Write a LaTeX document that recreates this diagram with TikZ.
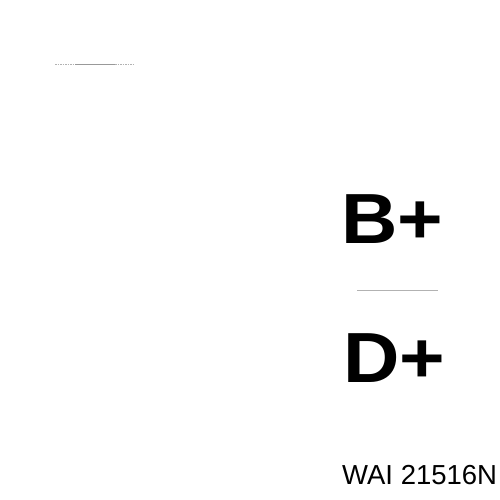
\documentclass[tikz,border=0pt]{standalone}
\usepackage{fontspec}
\setmainfont{Liberation Sans}
\begin{document}
\begin{tikzpicture}[x=1pt,y=1pt,
  big/.style={anchor=base west,inner sep=0pt,font=\fontsize{71}{71}\selectfont\bfseries},
  code/.style={anchor=base west,inner sep=0pt,font=\fontsize{27.5}{28}\selectfont},
  rule/.style={draw=black!40,line width=0.8pt}]
\useasboundingbox (0,0) rectangle (500,500);
\fill[white] (0,0) rectangle (500,500);
\node[big] (bplus) at (341,256) {\scalebox{1.1}[1]{B+}};
\node[big] (dplus) at (343,117) {\scalebox{1.1}[1]{D+}};
\node[code] (code) at (342,15) {WAI 21516N};
\draw[rule,black!30,dash pattern=on 1.5pt off 1pt] (55,436) -- (75,436);
\draw[rule] (75,436) -- (115,436);
\draw[rule,black!30,dash pattern=on 1.5pt off 1pt] (115,436) -- (135,436);
\draw[rule,black!30] (357,210) -- (438,210);
\end{tikzpicture}
\end{document}
